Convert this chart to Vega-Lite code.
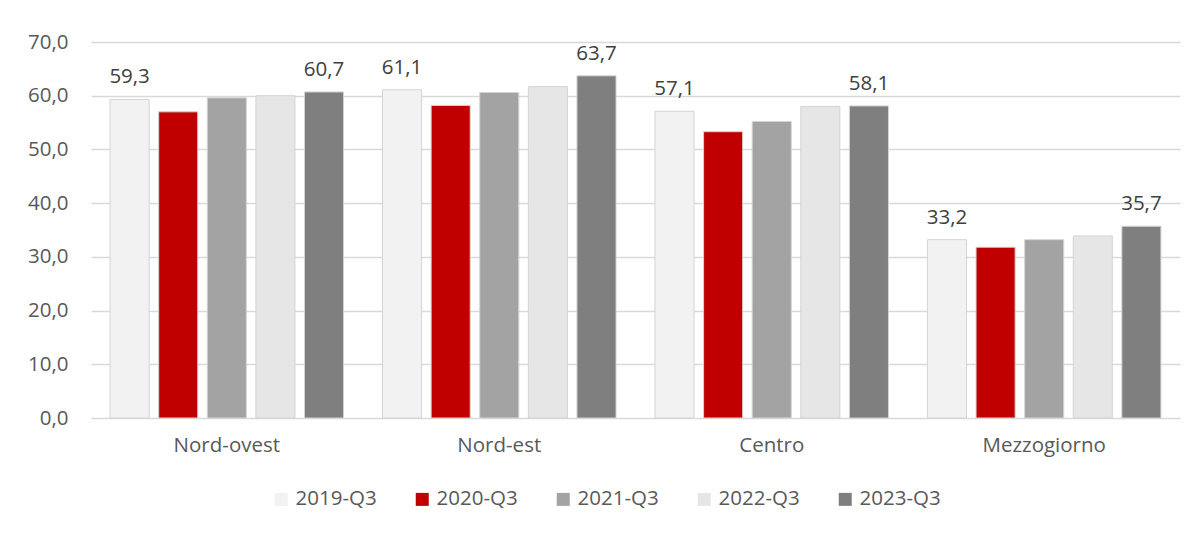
{
  "$schema": "https://vega.github.io/schema/vega-lite/v6.json",
  "width": 1089,
  "height": 376,
  "autosize": {"type": "none"},
  "padding": {"left": 91, "top": 42, "right": 22, "bottom": 115},
  "background": "white",
  "config": {
    "view": {"stroke": null},
    "font": "Open Sans",
    "locale": {"number": {"decimal": ",", "thousands": ".", "grouping": [3], "currency": ["€", ""]}}
  },
  "data": {
    "values": [
      {"regione": "Nord-ovest", "periodo": "2019-Q3", "valore": 59.3},
      {"regione": "Nord-ovest", "periodo": "2020-Q3", "valore": 57.0},
      {"regione": "Nord-ovest", "periodo": "2021-Q3", "valore": 59.6},
      {"regione": "Nord-ovest", "periodo": "2022-Q3", "valore": 60.0},
      {"regione": "Nord-ovest", "periodo": "2023-Q3", "valore": 60.7},
      {"regione": "Nord-est", "periodo": "2019-Q3", "valore": 61.1},
      {"regione": "Nord-est", "periodo": "2020-Q3", "valore": 58.2},
      {"regione": "Nord-est", "periodo": "2021-Q3", "valore": 60.6},
      {"regione": "Nord-est", "periodo": "2022-Q3", "valore": 61.7},
      {"regione": "Nord-est", "periodo": "2023-Q3", "valore": 63.7},
      {"regione": "Centro", "periodo": "2019-Q3", "valore": 57.1},
      {"regione": "Centro", "periodo": "2020-Q3", "valore": 53.3},
      {"regione": "Centro", "periodo": "2021-Q3", "valore": 55.2},
      {"regione": "Centro", "periodo": "2022-Q3", "valore": 58.0},
      {"regione": "Centro", "periodo": "2023-Q3", "valore": 58.1},
      {"regione": "Mezzogiorno", "periodo": "2019-Q3", "valore": 33.2},
      {"regione": "Mezzogiorno", "periodo": "2020-Q3", "valore": 31.8},
      {"regione": "Mezzogiorno", "periodo": "2021-Q3", "valore": 33.2},
      {"regione": "Mezzogiorno", "periodo": "2022-Q3", "valore": 33.9},
      {"regione": "Mezzogiorno", "periodo": "2023-Q3", "valore": 35.7}
    ]
  },
  "encoding": {
    "x": {
      "field": "regione",
      "type": "nominal",
      "sort": ["Nord-ovest", "Nord-est", "Centro", "Mezzogiorno"],
      "scale": {"paddingInner": 0.143, "paddingOuter": 0.07},
      "axis": {
        "title": null,
        "labelAngle": 0,
        "labelFontSize": 20.5,
        "labelColor": "#595959",
        "ticks": false,
        "domain": false,
        "grid": false,
        "labelPadding": 17
      }
    },
    "xOffset": {
      "field": "periodo",
      "type": "nominal",
      "sort": ["2019-Q3", "2020-Q3", "2021-Q3", "2022-Q3", "2023-Q3"],
      "scale": {"paddingInner": 0.196, "paddingOuter": 0}
    },
    "y": {
      "field": "valore",
      "type": "quantitative",
      "scale": {"domain": [0, 70], "nice": false},
      "axis": {
        "title": null,
        "values": [0, 10, 20, 30, 40, 50, 60, 70],
        "format": ".1f",
        "labelFontSize": 20.5,
        "labelColor": "#595959",
        "ticks": false,
        "domain": false,
        "labelPadding": 23,
        "gridColor": "#D9D9D9",
        "gridWidth": 1.5
      }
    }
  },
  "layer": [
    {
      "mark": {"type": "bar", "stroke": "#D4D4D4", "strokeWidth": 1},
      "encoding": {
        "color": {
          "field": "periodo",
          "type": "nominal",
          "scale": {
            "domain": ["2019-Q3", "2020-Q3", "2021-Q3", "2022-Q3", "2023-Q3"],
            "range": ["#F2F2F2", "#C00000", "#A3A3A3", "#E6E6E6", "#7F7F7F"]
          },
          "legend": {
            "title": null,
            "orient": "none",
            "legendX": 180,
            "legendY": 447,
            "direction": "horizontal",
            "columns": 5,
            "columnPadding": 35,
            "padding": 0,
            "symbolType": "square",
            "symbolSize": 169,
            "symbolStrokeWidth": 0,
            "labelFontSize": 20.5,
            "labelColor": "#595959",
            "labelOffset": 4
          }
        }
      }
    },
    {
      "transform": [{"filter": "datum.periodo == '2019-Q3' || datum.periodo == '2023-Q3'"}],
      "mark": {"type": "text", "baseline": "alphabetic", "dy": -16, "fontSize": 20.5, "color": "#404040"},
      "encoding": {
        "text": {"field": "valore", "type": "quantitative", "format": ".1f"}
      }
    }
  ]
}
